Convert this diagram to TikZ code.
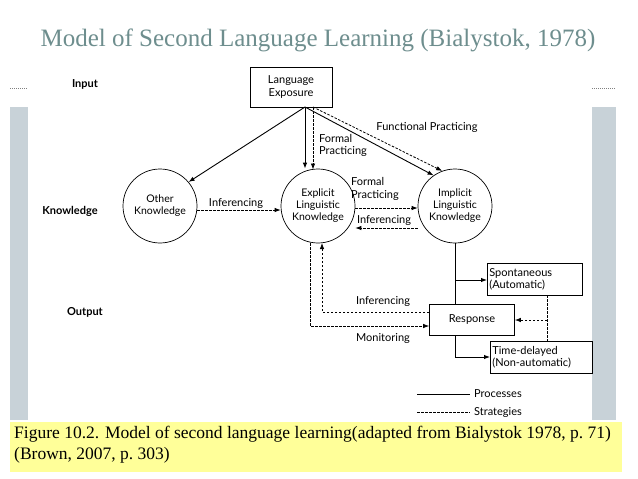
\documentclass[tikz,border=0pt]{standalone}
\usepackage{fontspec}
\setmainfont{Liberation Serif}
\newfontfamily\dg{Lato}
\usetikzlibrary{arrows.meta}
\definecolor{titlec}{HTML}{6E8E8E}
\definecolor{panel}{HTML}{C8D2D8}
\definecolor{capy}{HTML}{FFFF99}
\begin{document}
\begin{tikzpicture}[x=1pt,y=-1pt,
  lab/.style={font=\dg\fontsize{11}{12.5}\selectfont,align=center,inner sep=1pt},
  hd/.style={font=\dg\bfseries\fontsize{11}{13}\selectfont},
  circ/.style={draw,circle,minimum size=74pt,inner sep=0pt,font=\dg\fontsize{10.5}{12}\selectfont,align=center,line width=0.7pt},
  bx/.style={draw,rectangle,font=\dg\fontsize{11}{12.5}\selectfont,align=left,line width=0.7pt,anchor=north west,inner xsep=2pt},
  pr/.style={line width=0.9pt,-{Latex[length=6pt,width=4.5pt]}},
  st/.style={line width=0.8pt,dashed,dash pattern=on 2.5pt off 1.5pt,-{Latex[length=6pt,width=4.5pt]}}]
\useasboundingbox (0,0) rectangle (638,479);
\fill[white] (0,0) rectangle (638,479);
\fill[panel] (10,107) rectangle (616,420);
\fill[white] (28,57) rectangle (592,420);
\draw[gray,dashed,dash pattern=on 1pt off 1pt] (10,88) -- (28,88) (592,88) -- (616,88);
\node[text=titlec,font=\fontsize{25}{30}\selectfont] (title) at (318,40) {Model of Second Language Learning (Bialystok, 1978)};
\fill[capy] (10,422) rectangle (622,472);
\node[anchor=north west,align=left,font=\fontsize{17.5}{21}\selectfont,inner sep=0pt] (cap) at (14,426) {Figure 10.2. Model of second language learning(adapted from Bialystok 1978, p.~71)\\(Brown, 2007, p.~303)};

\node[hd] (in) at (85,84) {Input};
\node[hd] (kn) at (70,211) {Knowledge};
\node[hd] (out) at (85,312) {Output};

\node[draw,line width=0.7pt,minimum width=82pt,minimum height=40pt,lab] (le) at (291,87) {Language\\Exposure};
\node[circ] (ok) at (160,206) {Other\\Knowledge};
\node[circ] (ex) at (318,206) {Explicit\\Linguistic\\Knowledge};
\node[circ] (im) at (455,206) {Implicit\\Linguistic\\Knowledge};
\node[bx,text width=91pt,minimum height=32pt] (sp) at (487,263) {Spontaneous\\(Automatic)};
\node[draw,line width=0.7pt,minimum width=85pt,minimum height=31pt,lab] (re) at (472,320) {Response};
\node[bx,text width=98pt,minimum height=32pt] (td) at (490,341) {Time-delayed\\(Non-automatic)};

\coordinate (lb) at (305,107);
\draw[pr] (lb) -- (ok.40);
\draw[pr] (lb) -- (lb |- ex.north);
\draw[st] (313,107) -- (313,169.5);
\node[lab,align=left,anchor=north west] (fp1) at (318,133) {Formal\\Practicing};
\draw[pr] (lb) -- (im.125);
\draw[st] (313,107) -- (im.110);
\node[lab] (fun) at (427,127) {Functional Practicing};

\draw[st] (ok.east |- 0,210) -- (ex.west |- 0,210);
\node[lab] (inf1) at (236,203) {Inferencing};
\draw[st] (ex.east |- 0,208) -- (im.west |- 0,208);
\node[lab,align=left] (fp2) at (375,189) {Formal\\Practicing};
\draw[st] (im.west |- 0,228) -- (ex.east |- 0,228);
\node[lab] (inf2) at (384,220) {Inferencing};

\draw[line width=0.9pt] (im.south) -- (re.north -| im.south);
\draw[pr] (455,280) -- (sp.west |- 0,280);
\draw[pr] (re.south -| im.south) -- (455,357) -- (td.west |- 0,357);
\coordinate (sx) at (547,295);
\draw[line width=0.8pt,dashed,dash pattern=on 2.5pt off 1.5pt] (sx) -- (td.north -| sx);
\draw[st] (547,320) -- (re.east);
\draw[st] (re.west |- 0,312) -- (322,312) -- (322,243);
\node[lab] (inf3) at (383,301) {Inferencing};
\draw[st] (310,243) -- (310,326) -- (re.west |- 0,326);
\node[lab] (mon) at (383,338) {Monitoring};

\draw[line width=0.8pt] (417,394) -- (470,394);
\node[lab,anchor=west] (lp) at (473,394) {Processes};
\draw[line width=0.8pt,dashed,dash pattern=on 2.5pt off 1.5pt] (417,412) -- (470,412);
\node[lab,anchor=west] (ls) at (473,412) {Strategies};
\end{tikzpicture}
\end{document}
